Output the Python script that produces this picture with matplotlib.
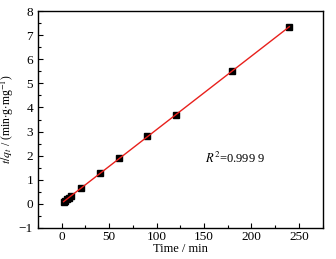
import numpy as np
import matplotlib
matplotlib.use('Agg')
import matplotlib.pyplot as plt
from matplotlib.ticker import MultipleLocator

plt.rcParams['font.family'] = ['Liberation Serif', 'DejaVu Serif']
plt.rcParams['mathtext.fontset'] = 'stix'

# data
t = [2, 4, 6, 8, 10, 20, 40, 60, 90, 120, 180, 240]
tq = [0.07, 0.13, 0.20, 0.26, 0.32, 0.65, 1.29, 1.90, 2.80, 3.68, 5.50, 7.35]

fig = plt.figure(figsize=(3.36, 2.59), dpi=100)
ax = fig.add_axes([0.113, 0.12, 0.847, 0.837])

#linear fit
k, b = np.polyfit(t, tq, 1)
xs = np.array([t[0], t[-1]])
ax.plot(t, tq, 's', color='black', markersize=4.5, zorder=2)
ax.plot(xs, k * xs + b, color='#e8201c', lw=1.0, zorder=3)

ax.set_xlim(-25, 275)
ax.set_ylim(-1, 8)
ax.xaxis.set_major_locator(MultipleLocator(50))
ax.xaxis.set_minor_locator(MultipleLocator(25))
ax.yaxis.set_major_locator(MultipleLocator(1))
ax.yaxis.set_minor_locator(MultipleLocator(0.5))
ax.tick_params(which='both', direction='in', top=False, right=False, labelsize=9.5)
ax.tick_params(axis='x', pad=2)
ax.tick_params(which='major', length=3.5, width=0.8)
ax.tick_params(which='minor', length=2, width=0.8)
for s in ax.spines.values():
    s.set_linewidth(1.0)

ax.set_xlabel('Time / min', fontsize=9, labelpad=0)
ax.set_ylabel(r'$t/q_t$ / (min$\cdot$g$\cdot$mg$^{-1}$)', fontsize=8.5, labelpad=2)
ax.text(151, 1.9, r'$R^2$=0.999 9', fontsize=9, va='center')

fig.savefig('out.png', dpi=100)
